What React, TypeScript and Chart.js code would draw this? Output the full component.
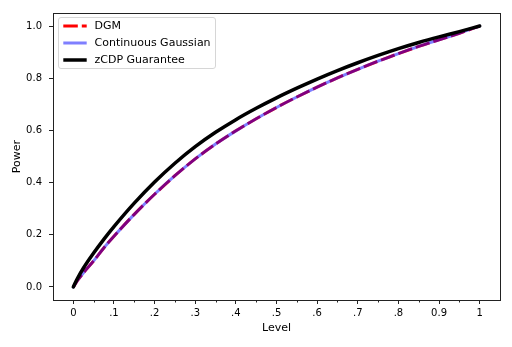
import React, { useEffect, useRef } from "react";
import { Chart, registerables } from "chart.js";

Chart.register(...registerables);

const levels = [0, 0.01, 0.025, 0.05, 0.075, 0.1, 0.15, 0.2, 0.25, 0.3, 0.35, 0.4, 0.45, 0.5, 0.55, 0.6, 0.65, 0.7, 0.75, 0.8, 0.85, 0.9, 0.95, 1];
const dgmPower = [0, 0.024, 0.0545, 0.1, 0.1495, 0.1943, 0.2783, 0.3553, 0.4263, 0.4908, 0.5478, 0.5983, 0.6448, 0.6878, 0.728, 0.7658, 0.8013, 0.8343, 0.8653, 0.8943, 0.922, 0.9475, 0.9725, 1];
const gaussianPower = [0, 0.024, 0.0545, 0.1, 0.1495, 0.1943, 0.2783, 0.3553, 0.4263, 0.4908, 0.5478, 0.5983, 0.6448, 0.6878, 0.728, 0.7658, 0.8013, 0.8343, 0.8653, 0.8943, 0.922, 0.9475, 0.9725, 1];
const zcdpPower = [0, 0.032, 0.0725, 0.13, 0.1825, 0.2313, 0.3213, 0.4023, 0.4743, 0.5378, 0.5928, 0.6413, 0.6848, 0.7248, 0.7618, 0.7968, 0.8293, 0.8593, 0.8873, 0.9133, 0.937, 0.9585, 0.9785, 1];

const seriesNames = ["DGM", "Continuous Gaussian", "zCDP Guarantee"];
const seriesColors = ["#ff0000", "rgba(0,0,255,0.5)", "#000000"];
const seriesWidths = [3, 3, 3.5];
const seriesDashes: number[][] = [[14.5, 4], [], []];

const xTickValues = [0, 0.1, 0.2, 0.3, 0.4, 0.5, 0.6, 0.7, 0.8, 0.9, 1];
const xTickLabels = ["0", ".1", ".2", ".3", ".4", ".5", ".6", ".7", ".8", "0.9", "1"];
const xMinorTicks = [0.05, 0.15, 0.25, 0.35, 0.45, 0.55, 0.65, 0.75, 0.85, 0.95];
const yTickValues = [0, 0.2, 0.4, 0.6, 0.8, 1];
const yTickLabels = ["0.0", "0.2", "0.4", "0.6", "0.8", "1.0"];

const FONT = "'DejaVu Sans', sans-serif";

export default function App() {
  const canvasRef = useRef<HTMLCanvasElement | null>(null);

  useEffect(() => {
    document.body.style.margin = "0";
    const canvas = canvasRef.current;
    if (!canvas) return;
    const seriesValues = [dgmPower, gaussianPower, zcdpPower];
    const orders = [2, 1, 0];

    const framePlugin = {
      id: "frameAndMinor",
      afterDraw(chart: any) {
        const { ctx, chartArea } = chart;
        const xs = chart.scales.x;
        ctx.save();
        ctx.strokeStyle = "#222";
        ctx.lineWidth = 1;
        ctx.beginPath();
        for (const v of xMinorTicks) {
          const px = Math.round(xs.getPixelForValue(v)) + 0.5;
          ctx.moveTo(px, chartArea.bottom);
          ctx.lineTo(px, chartArea.bottom + 2.5);
        }
        ctx.stroke();
        ctx.strokeRect(
          Math.round(chartArea.left) + 0.5,
          Math.round(chartArea.top) + 0.5,
          Math.round(chartArea.right - chartArea.left),
          Math.round(chartArea.bottom - chartArea.top)
        );
        ctx.restore();
      },
    };

    const chart = new Chart(canvas, {
      type: "line",
      data: {
        datasets: seriesNames.map((name, i) => ({
          label: name,
          data: levels.map((x, j) => ({ x, y: seriesValues[i][j] })),
          borderColor: seriesColors[i],
          backgroundColor: seriesColors[i],
          borderWidth: seriesWidths[i],
          borderDash: seriesDashes[i],
          borderCapStyle: i === 0 ? "butt" : "round",
          pointRadius: 0,
          fill: false,
          cubicInterpolationMode: "monotone",
          order: orders[i],
        })),
      },
      options: {
        animation: false,
        responsive: false,
        maintainAspectRatio: false,
        layout: { padding: { top: 12, right: 12, left: 0, bottom: 0 } },
        plugins: { legend: { display: false }, tooltip: { enabled: false } },
        scales: {
          x: {
            type: "linear",
            min: -0.05,
            max: 1.05,
            afterBuildTicks: (scale: any) => {
              scale.ticks = xTickValues.map((v) => ({ value: v }));
            },
            afterFit: (scale: any) => {
              scale.height = 47;
            },
            ticks: {
              autoSkip: false,
              maxRotation: 0,
              padding: 3,
              color: "#000",
              font: { family: FONT, size: 10 },
              callback: (_v: any, idx: number) => xTickLabels[idx],
            },
            grid: { display: true, drawOnChartArea: false, drawTicks: true, tickLength: 4, tickColor: "#222", tickWidth: 1 },
            border: { display: false },
            title: { display: true, text: "Level", color: "#000", font: { family: FONT, size: 11 }, padding: { top: 0, bottom: 12.5 } },
          },
          y: {
            type: "linear",
            min: -0.05,
            max: 1.05,
            afterBuildTicks: (scale: any) => {
              scale.ticks = yTickValues.map((v) => ({ value: v }));
            },
            afterFit: (scale: any) => {
              scale.width = 53;
            },
            ticks: {
              autoSkip: false,
              padding: 7,
              color: "#000",
              font: { family: FONT, size: 10 },
              callback: (_v: any, idx: number) => yTickLabels[idx],
            },
            grid: { display: true, drawOnChartArea: false, drawTicks: true, tickLength: 4, tickColor: "#222", tickWidth: 1 },
            border: { display: false },
            title: { display: true, text: "Power", color: "#000", font: { family: FONT, size: 11 }, padding: { top: 11, bottom: 0 } },
          },
        },
      },
      plugins: [framePlugin],
    } as any);

    return () => chart.destroy();
  }, []);

  const rowTops = [8, 25.3, 42.3];

  return (
    <div style={{ position: "relative", width: 512, height: 347 }}>
      <canvas ref={canvasRef} width={512} height={347} style={{ display: "block", width: 512, height: 347 }} />
      <div
        style={{
          position: "absolute",
          left: 58,
          top: 17,
          width: 158,
          height: 52,
          boxSizing: "border-box",
          border: "1px solid #d6d6d6",
          borderRadius: 3,
          background: "rgba(255,255,255,0.8)",
          fontFamily: FONT,
          fontSize: 11,
          color: "#000",
        }}
      >
        {seriesNames.map((name, i) => (
          <div key={name} style={{ position: "absolute", left: 0, top: rowTops[i] - 7, height: 14, width: "100%" }}>
            <svg width={26} height={14} style={{ position: "absolute", left: 3, top: 0 }}>
              <line
                x1={1.3}
                y1={7}
                x2={24.7}
                y2={7}
                stroke={seriesColors[i]}
                strokeWidth={seriesWidths[i]}
                strokeDasharray={seriesDashes[i].length ? seriesDashes[i].join(" ") : undefined}
              />
            </svg>
            <span style={{ position: "absolute", left: 35.5, top: 0, lineHeight: "14px", whiteSpace: "nowrap" }}>{name}</span>
          </div>
        ))}
      </div>
    </div>
  );
}
